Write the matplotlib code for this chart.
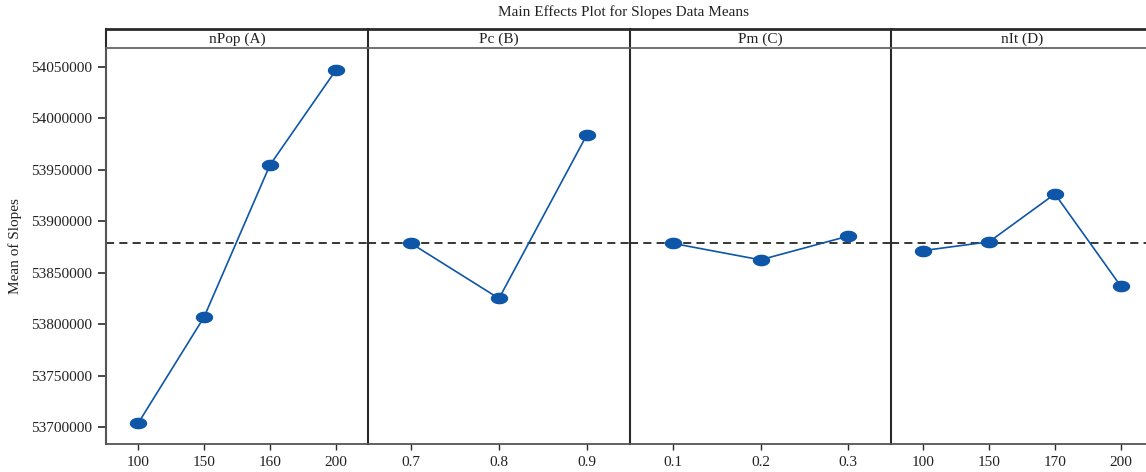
import matplotlib
matplotlib.use("Agg")
import matplotlib.pyplot as plt
import numpy as np
from matplotlib.path import Path
from matplotlib.markers import MarkerStyle

# ---- data ----
factor_names = ["nPop (A)", "Pc (B)", "Pm (C)", "nIt (D)"]
levels_A = ["100", "150", "160", "200"]
levels_B = ["0.7", "0.8", "0.9"]
levels_C = ["0.1", "0.2", "0.3"]
levels_D = ["100", "150", "170", "200"]
means_A = [53704000, 53807000, 53954500, 54046500]
means_B = [53878500, 53825000, 53984000]
means_C = [53878500, 53862500, 53885500]
means_D = [53871500, 53880000, 53926500, 53837000]
grand_mean = 53878500
y_ticks = [53700000, 53750000, 53800000, 53850000, 53900000, 53950000, 54000000, 54050000]

title = "Main Effects Plot for Slopes Data Means"
y_label = "Mean of Slopes"

plt.rcParams['font.family'] = ['Liberation Serif', 'DejaVu Serif']

W, H = 1146, 472
fig = plt.figure(figsize=(W / 100, H / 100), dpi=100)

blue = "#0D56A8"
dark = "#2a2a2a"

# ellipse marker (wider than tall)
t = np.linspace(0, 2 * np.pi, 60)
ell = Path(np.column_stack([np.cos(t), 0.64 * np.sin(t)]), closed=True)
ell_marker = MarkerStyle(ell)

panels = [
    (levels_A, means_A),
    (levels_B, means_B),
    (levels_C, means_C),
    (levels_D, means_D),
]

x_edges = [106, 368, 630, 891, 1153]
ax_top_px, ax_bot_px = 48.3, 444.0
hdr_top_px = 28.7

ylo, yhi = 53683700, 54067900

axes = []
for i, (labels, vals) in enumerate(panels):
    l = x_edges[i] / W
    w = (x_edges[i + 1] - x_edges[i]) / W
    b = 1 - ax_bot_px / H
    h = (ax_bot_px - ax_top_px) / H
    ax = fig.add_axes([l, b, w, h])
    n = len(labels)
    xs = np.arange(n)
    ax.plot(xs, vals, color=blue, lw=1.2, zorder=3,
            marker=ell_marker, markersize=11.5, markerfacecolor=blue,
            markeredgecolor=blue)
    ax.axhline(grand_mean, color="black", lw=1.1, ls=(0, (5.3, 3.4)), zorder=2)
    ax.set_xlim(-0.49, n - 0.51)
    ax.set_ylim(ylo, yhi)
    ax.set_xticks(xs)
    ax.set_xticklabels(labels, fontsize=11)
    ax.tick_params(axis='x', length=4, width=1, color=dark, pad=5, labelcolor="#222222")
    for s in ["top", "right"]:
        ax.spines[s].set_visible(False)
    ax.spines["bottom"].set_color("#555555")
    ax.spines["bottom"].set_linewidth(1.3)
    ax.spines["left"].set_color(dark if i > 0 else "#555555")
    ax.spines["left"].set_linewidth(1.5)
    if i == 0:
        ax.set_yticks(y_ticks)
        ax.set_yticklabels([str(v) for v in y_ticks], fontsize=11)
        ax.tick_params(axis='y', length=6, width=1.2, color=dark, pad=4, labelcolor="#222222")
    else:
        ax.set_yticks([])
    axes.append(ax)

    # header strip
    hax = fig.add_axes([l, 1 - ax_top_px / H, w, (ax_top_px - hdr_top_px) / H])
    hax.set_xticks([])
    hax.set_yticks([])
    hax.set_xlim(0, 1)
    hax.set_ylim(0, 1)
    hax.spines["right"].set_visible(False)
    hax.spines["top"].set_color(dark)
    hax.spines["top"].set_linewidth(2.0)
    hax.spines["bottom"].set_color("#666666")
    hax.spines["bottom"].set_linewidth(1.3)
    hax.spines["left"].set_color(dark)
    hax.spines["left"].set_linewidth(1.5)
    hax.text(0.5, 0.45, factor_names[i], ha="center", va="center", fontsize=11,
             color="#222222")

fig.text(624 / W, 1 - 12 / H, title, ha="center", va="center", fontsize=11,
         color="#222222")
fig.text(15 / W, 1 - 246 / H, y_label, ha="center", va="center", rotation=90,
         fontsize=11, color="#222222")

fig.savefig("out.png", dpi=100)
